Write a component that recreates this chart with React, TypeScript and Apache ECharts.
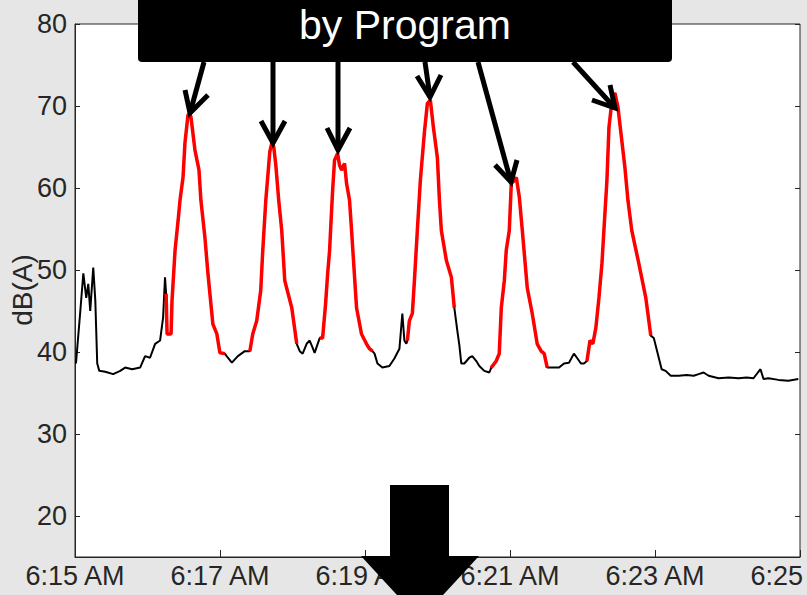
import React, { useEffect, useRef } from "react";
import * as echarts from "echarts";

// seconds after 6:15:00 AM
const timeSec = [
  0.8, 4.4, 6.9, 9.3, 11.0, 12.6, 15.1, 16.8, 18.4, 20.1, 25.0, 31.6, 37.4, 41.5, 47.3, 53.9, 58.0, 62.1, 66.3, 70.4, 72.9, 74.5,
  75.4, 76.2, 79.5, 80.3, 82.8, 85.3, 86.9, 89.4, 91.0, 93.5, 95.1, 96.0, 99.3, 102.6, 104.2, 107.5, 110.0, 114.1, 117.4, 119.9, 124.0,
  126.5, 129.8, 134.8, 140.5,
  144.7, 147.1, 150.4, 153.7, 155.4, 157.9, 159.6, 161.2, 162.9, 164.5, 166.2, 168.6, 171.1, 173.6, 179.4, 183.5,
  186.0, 188.4, 191.7, 194.2, 196.7, 198.3,
  202.5, 204.9, 207.4, 209.1, 210.7, 211.5, 213.2, 214.8, 217.3, 218.9, 220.6, 223.1, 224.7, 227.2, 228.9, 233.0, 237.1, 241.2, 243.7, 246.2,
  247.9, 250.3, 254.4, 260.2, 264.3, 268.5, 270.9, 272.6, 274.2,
  275.1, 276.7, 279.2, 280.9, 283.3, 285.8, 289.1, 291.6, 294.1, 296.6, 299.9, 301.6, 303.2, 307.3, 311.5, 313.9,
  316.4, 318.1, 319.7, 322.2, 326.3, 328.8, 332.1, 334.6, 338.7, 342.9,
  344.5, 348.6, 351.1, 352.8, 355.3, 356.9, 359.4, 361.1, 363.6, 365.2, 367.7, 370.2, 374.3, 378.4, 382.5, 385.8, 388.3, 390.8,
  396.5, 400.6, 404.7, 408.8, 412.9, 415.4, 418.7, 421.2,
  423.7, 426.2, 428.6, 431.1, 433.6, 436.1, 437.7, 440.2, 441.9, 443.5, 446.8, 449.3, 451.8, 455.1, 457.6, 460.8, 466.6, 472.4, 476.5,
  479.0, 483.1, 485.5, 488.8, 493.0, 499.6, 506.2, 512.0, 516.1, 520.2, 524.4, 532.6, 540.9, 549.2, 555.8, 561.5, 567.3, 569.8, 573.9, 582.2, 590.4, 598.6,
];

const dBA = [
  38.6, 45.0, 49.6, 46.6, 48.3, 45.0, 50.3, 46.3, 38.6, 37.7, 37.6, 37.3, 37.7, 38.1, 37.9, 38.1, 39.5, 39.3, 41.0, 41.4, 44.2, 49.1,
  47.1, 42.2, 42.2, 46.3, 52.4, 56.0, 58.5, 61.3, 65.5, 68.9, 69.1, 68.6, 64.6, 62.2, 58.5, 54.0, 49.6, 43.4, 42.2, 39.9, 39.8,
  39.3, 38.7, 39.5, 40.1,
  40.1, 42.2, 43.8, 47.5, 52.4, 58.5, 61.5, 64.4, 65.5, 65.0, 62.8, 58.5, 54.8, 48.7, 45.4, 41.0,
  40.1, 39.8, 41.0, 41.4, 40.5, 39.9,
  41.7, 41.7, 45.9, 49.6, 52.4, 54.8, 59.7, 63.4, 64.2, 62.8, 62.2, 63.0, 60.6, 58.5, 54.8, 45.4, 42.2, 41.0, 40.4, 40.1,
  39.8, 38.6, 38.1, 38.3, 39.2, 40.4, 44.7, 41.4, 41.0,
  41.4, 43.8, 44.7, 48.7, 54.8, 60.9, 66.7, 70.3, 70.7, 67.4, 63.7, 58.5, 54.8, 51.2, 49.1, 45.4,
  42.6, 40.8, 38.6, 38.6, 39.3, 39.5, 38.9, 38.3, 37.7, 37.5,
  38.1, 38.9, 39.8, 45.4, 48.7, 52.4, 54.8, 60.6, 60.9, 61.3, 58.9, 54.8, 47.8, 44.7, 41.0, 40.1, 39.8, 38.1,
  38.1, 38.1, 38.6, 38.7, 39.8, 39.3, 38.6, 38.6,
  38.9, 41.4, 41.0, 43.0, 46.6, 50.8, 54.8, 60.9, 67.4, 69.5, 71.6, 69.9, 66.7, 62.5, 58.5, 54.8, 50.8, 46.6, 42.0,
  41.7, 39.3, 37.9, 37.7, 37.1, 37.1, 37.2, 37.1, 37.3, 37.5, 37.1, 36.8, 36.9, 36.8, 36.9, 36.8, 37.9, 36.7, 36.8, 36.6, 36.5, 36.7,
];

// detected events [start, end] in seconds after 6:15:00
const eventWindows = [
  [75.4, 124.0],
  [144.7, 183.5],
  [202.5, 246.2],
  [275.1, 313.9],
  [344.5, 390.8],
  [423.7, 476.5],
];

const xTickLabels = ["6:15 AM", "6:17 AM", "6:19 AM", "6:21 AM", "6:23 AM", "6:25 AM"];
const yTicks = [20, 30, 40, 50, 60, 70, 80];
const yAxisName = "dB(A)";
const calloutText = "by Program";

const FONT = '"Liberation Sans", Arial, Helvetica, sans-serif';
const INK = "#262626";

// annotation arrows: shaft start, tip, arm ends (pixel layout)
const arrows = [
  { from: [204, 62], tip: [190, 113], a: [185, 90], b: [208, 95] },
  { from: [273, 62], tip: [273, 143], a: [261, 121], b: [285, 121] },
  { from: [338, 62], tip: [338, 150], a: [327, 128], b: [350, 128] },
  { from: [425, 62], tip: [430, 97], a: [417, 76], b: [441, 75] },
  { from: [478, 62], tip: [511, 182], a: [495, 165], b: [517, 160] },
  { from: [573, 62], tip: [615, 108], a: [592, 100], b: [610, 85] },
];

export default function App() {
  const ref = useRef<HTMLDivElement>(null);

  useEffect(() => {
    const chart = echarts.init(ref.current!, null, { renderer: "svg" });

    const full = timeSec.map((t, i) => [t, dBA[i]]);
    const events = timeSec.map((t, i) =>
      eventWindows.some(([a, b]) => t >= a - 0.01 && t <= b + 0.01) ? [t, dBA[i]] : [t, "-"]
    );

    const graphic: any[] = [];
    graphic.push({
      type: "text",
      z: 50,
      x: 22,
      y: 290,
      rotation: Math.PI / 2,
      style: {
        text: yAxisName,
        fill: INK,
        fontSize: 28,
        fontFamily: FONT,
        align: "center",
        verticalAlign: "middle",
      },
    });
    graphic.push({
      type: "rect",
      z: 100,
      shape: { x: 138, y: -10, width: 534, height: 72, r: 4 },
      style: { fill: "#000" },
    });
    graphic.push({
      type: "text",
      z: 101,
      x: 405,
      y: 25,
      style: {
        text: calloutText,
        fill: "#fff",
        fontSize: 41,
        fontFamily: FONT,
        align: "center",
        verticalAlign: "middle",
      },
    });
    arrows.forEach((ar) => {
      graphic.push({
        type: "line",
        z: 100,
        shape: { x1: ar.from[0], y1: ar.from[1], x2: ar.tip[0], y2: ar.tip[1] },
        style: { stroke: "#000", lineWidth: 5 },
      });
      graphic.push({
        type: "polyline",
        z: 100,
        shape: { points: [ar.a, ar.tip, ar.b] },
        style: { stroke: "#000", lineWidth: 5, fill: null, lineJoin: "miter" },
      });
    });
    graphic.push({
      type: "polygon",
      z: 100,
      shape: {
        points: [
          [390, 485],
          [449, 485],
          [449, 556],
          [479, 556],
          [420, 620],
          [361, 556],
          [390, 556],
        ],
      },
      style: { fill: "#000" },
    });

    chart.setOption({
      animation: false,
      backgroundColor: "#e6e6e6",
      textStyle: { fontFamily: FONT },
      grid: {
        left: 75,
        right: 7,
        top: 24,
        bottom: 38,
        containLabel: false,
        outerBoundsMode: "none",
        show: true,
        backgroundColor: "#fff",
        borderColor: INK,
        borderWidth: 1,
      },
      xAxis: {
        type: "value",
        min: 0,
        max: 600,
        interval: 120,
        axisLine: { show: true, lineStyle: { color: INK, width: 1 } },
        axisTick: { show: true, inside: true, length: 7, lineStyle: { color: INK } },
        axisLabel: {
          fontSize: 27,
          color: INK,
          fontFamily: FONT,
          margin: 5,
          showMinLabel: true,
          showMaxLabel: true,
          hideOverlap: false,
          formatter: (v: number) => xTickLabels[Math.round(v / 120)] ?? "",
        },
        splitLine: { show: false },
      },
      yAxis: [
        {
          type: "value",
          min: 15,
          max: 80,
          axisLine: { show: true, lineStyle: { color: INK, width: 1 } },
          axisTick: { show: true, inside: true, length: 5, customValues: yTicks, lineStyle: { color: INK } },
          axisLabel: { fontSize: 27, color: INK, fontFamily: FONT, margin: 8, customValues: yTicks },
          splitLine: { show: false },
        },
        {
          type: "value",
          position: "right",
          min: 15,
          max: 80,
          axisLine: { show: false },
          axisTick: { show: true, inside: true, length: 5, customValues: yTicks, lineStyle: { color: INK } },
          axisLabel: { show: false, customValues: yTicks },
          splitLine: { show: false },
        },
      ],
      series: [
        {
          type: "line",
          data: full,
          showSymbol: false,
          symbol: "none",
          lineStyle: { color: "#000", width: 2 },
          z: 2,
        },
        {
          type: "line",
          data: events,
          showSymbol: false,
          symbol: "none",
          connectNulls: false,
          lineStyle: { color: "#ff0000", width: 3.5 },
          z: 3,
        },
      ],
      graphic,
    });

    return () => chart.dispose();
  }, []);

  return (
    <div
      ref={ref}
      style={{ position: "absolute", left: 0, top: 0, width: 807, height: 595 }}
    />
  );
}
